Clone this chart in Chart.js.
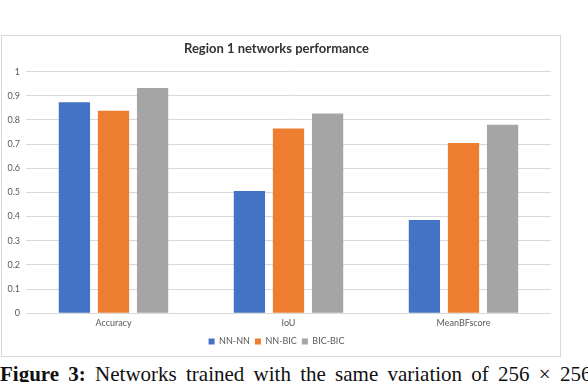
<!DOCTYPE html>
<html lang="en">
<head>
  <meta charset="UTF-8">
  <title>Region 1 networks performance</title>
  <script src="https://cdn.jsdelivr.net/npm/chart.js"></script>
  <style>
    body {
      margin: 0;
      background: #fff;
      width: 588px;
      height: 382px;
      overflow: hidden;
      position: relative;
    }

    .box {
      position: absolute;
      left: 1px;
      top: 35px;
      width: 558px;
      height: 320px;
      border: 1px solid #d9d9d9;
    }

    .caption {
      position: absolute;
      left: 0;
      top: 362px;
      white-space: nowrap;
      font-family: "Liberation Serif", serif;
      font-size: 21px;
      word-spacing: 4px;
      color: #111;
    }
  </style>
</head>
<body>
  <div class="box">
    <canvas id="perfChart" width="558" height="320"></canvas>
  </div>
  <div class="caption"><b>Figure 3:</b> Networks trained with the same variation of 256 × 256</div>

  <script>
    const categories = ['Accuracy', 'IoU', 'MeanBFscore'];
    const nnNN = [0.873, 0.506, 0.386];
    const nnBIC = [0.838, 0.765, 0.704];
    const bicBIC = [0.932, 0.827, 0.780];
    const yTicks = [0, 0.1, 0.2, 0.3, 0.4, 0.5, 0.6, 0.7, 0.8, 0.9, 1];

    const font = 'Lato, "Open Sans", sans-serif';

    const ctx = document.getElementById('perfChart').getContext('2d');
    new Chart(ctx, {
      type: 'bar',
      data: {
        labels: categories,
        datasets: [
          { label: 'NN-NN', data: nnNN, backgroundColor: '#4472C4' },
          { label: 'NN-BIC', data: nnBIC, backgroundColor: '#ED7D31' },
          { label: 'BIC-BIC', data: bicBIC, backgroundColor: '#A5A5A5' }
        ]
      },
      options: {
        responsive: false,
        animation: false,
        categoryPercentage: 0.67,
        barPercentage: 0.8,
        layout: { padding: { left: 0, right: 9, top: 0, bottom: 0 } },
        plugins: {
          title: {
            display: true,
            text: 'Region 1 networks performance',
            color: '#333',
            font: { family: font, size: 13, weight: 'bold' },
            padding: { top: 5, bottom: 15 }
          },
          legend: {
            position: 'bottom',
            labels: {
              boxWidth: 6,
              boxHeight: 6,
              padding: 5,
              color: '#595959',
              font: { family: font, size: 9 }
            }
          },
          tooltip: { enabled: false }
        },
        scales: {
          x: {
            grid: { display: false, drawTicks: false },
            border: { display: false },
            ticks: { color: '#595959', font: { family: font, size: 9 }, padding: 4 }
          },
          y: {
            min: 0,
            max: 1,
            afterBuildTicks: (axis) => { axis.ticks = yTicks.map(v => ({ value: v })); },
            afterFit: (axis) => { axis.width = 24; },
            grid: { color: '#d9d9d9', drawTicks: false },
            border: { display: false },
            ticks: {
              color: '#595959',
              padding: 6,
              font: { family: font, size: 9 },
              callback: (v) => String(Math.round(v * 10) / 10)
            }
          }
        }
      }
    });
  </script>
</body>
</html>
